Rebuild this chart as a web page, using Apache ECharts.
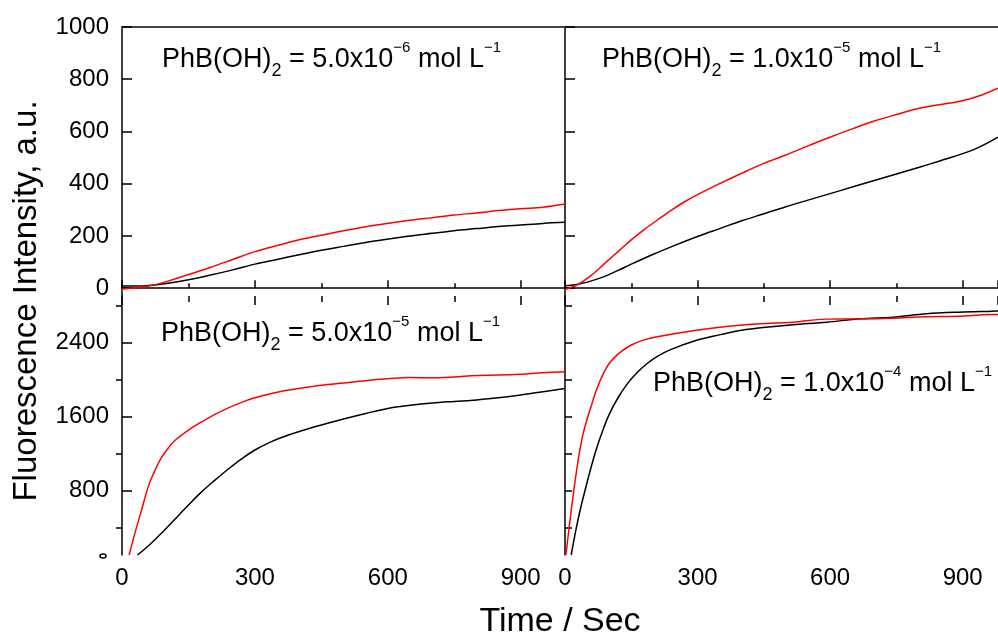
<!DOCTYPE html>
<html>
<head>
<meta charset="utf-8">
<script src="https://cdn.jsdelivr.net/npm/echarts@6/dist/echarts.min.js"></script>
<style>html,body{margin:0;padding:0;background:#fff}#c{width:998px;height:640px}</style>
</head>
<body>
<div id="c"></div>
<script>
// ---------- data ----------
const xTicks = [0, 300, 600, 900];
const yTicksTop = [0, 200, 400, 600, 800, 1000];
const yTicksBottomMajor = [800, 1600, 2400];
const yTicksBottomMinor = [400, 1200, 2000, 2800];

const labelTL = ['PhB(OH)', '2', ' = 5.0x10', '−6', ' mol L', '−1'];
const labelTR = ['PhB(OH)', '2', ' = 1.0x10', '−5', ' mol L', '−1'];
const labelBL = ['PhB(OH)', '2', ' = 5.0x10', '−5', ' mol L', '−1'];
const labelBR = ['PhB(OH)', '2', ' = 1.0x10', '−4', ' mol L', '−1'];

// top-left: 5.0e-6
const tTL = [0,30,60,100,150,200,250,300,350,400,450,500,550,600,650,700,750,800,850,900,950,1000];
const redTL = [-3,2,8,25,52,80,110,140,163,185,203,220,235,248,260,270,280,288,297,304,310,322];
const blackTL = [8,8,10,18,32,50,70,92,110,128,145,160,175,188,200,210,220,228,236,242,248,252];

// top-right: 1.0e-5
const tRedTR = [0,30,60,90,120,150,180,210,240,270,300,350,400,450,500,550,600,650,700,750,800,850,900,940,980];
const redTR = [-5,15,50,95,140,185,225,262,298,330,358,400,440,478,510,545,578,610,640,665,688,703,718,738,766];
const tBlackTR = [0,30,60,90,120,150,200,250,300,350,400,450,500,550,600,650,700,750,800,850,900,940,980];
const blackTR = [9,15,28,45,68,92,130,165,198,228,258,285,312,337,362,387,412,437,462,488,515,542,578];

// bottom-left: 5.0e-5
const tRedBL = [16,30,45,60,75,90,105,120,150,180,210,240,270,300,350,400,450,500,550,600,650,700,750,800,850,900,950,1000];
const redBL = [100,350,600,850,1020,1160,1260,1340,1450,1540,1620,1690,1750,1800,1860,1900,1935,1960,1985,2005,2020,2015,2025,2040,2045,2055,2070,2080];
const tBlackBL = [35,60,90,120,150,180,210,240,270,300,330,360,400,450,500,550,600,650,700,750,800,850,900,950,1000];
const blackBL = [100,200,340,490,640,785,910,1030,1140,1235,1310,1370,1435,1505,1570,1630,1685,1718,1743,1760,1775,1800,1830,1865,1900];

// bottom-right: 1.0e-4
const tRedBR = [2,10,20,30,40,50,60,70,80,90,100,115,130,150,175,215,290,365,440,515,590,665,740,815,890,965,980];
const redBR = [100,420,800,1130,1390,1570,1720,1870,1990,2090,2170,2250,2310,2370,2420,2465,2525,2570,2600,2617,2650,2652,2660,2675,2680,2700,2700];
const tBlackBR = [14,25,35,47,58,70,85,100,120,141,165,186,210,239,291,340,400,460,516,593,667,742,818,892,967,980];
const blackBR = [100,380,600,830,1030,1230,1440,1620,1800,1950,2080,2170,2250,2320,2410,2470,2530,2565,2590,2617,2653,2671,2707,2725,2736,2738];

// ---------- chart ----------
const FONT = '"Liberation Sans", Arial, Helvetica, sans-serif';
const pairs = (t, v) => t.map((x, i) => [x, v[i]]);
const plain = v => String(v);

const grids = [
  {left: 122, top: 27, width: 443, height: 269},
  {left: 565, top: 27, width: 434, height: 269},
  {left: 122, top: 296, width: 443, height: 259},
  {left: 565, top: 296, width: 434, height: 259}
];

const none = {show: false};
const blackLine = {show: true, lineStyle: {color: '#000', width: 1.5}};

function xTop(grid, max) {
  return {type: 'value', gridIndex: grid, position: 'bottom', min: 0, max: max, interval: 300,
    axisLine: blackLine, axisTick: {show: true, inside: true, length: 8, lineStyle: {color: '#000', width: 1.5}},
    minorTick: {show: true, splitNumber: 2, length: 5, lineStyle: {color: '#000', width: 1.5}},
    axisLabel: none, splitLine: none, minorSplitLine: none};
}
function xBottomLabels(grid, max) {
  return {type: 'value', gridIndex: grid, position: 'bottom', min: 0, max: max, interval: 300,
    axisLine: none, axisTick: none, splitLine: none,
    axisLabel: {show: true, customValues: xTicks, formatter: plain, fontSize: 24, fontFamily: FONT, color: '#000', margin: 11}};
}
function xBottomTopTicks(grid, max) {
  return {type: 'value', gridIndex: grid, position: 'top', min: 0, max: max, interval: 300,
    axisLine: none, axisLabel: none, splitLine: none,
    axisTick: {show: true, inside: true, length: 9, lineStyle: {color: '#000', width: 1.5}},
    minorTick: {show: true, splitNumber: 2, length: 6, lineStyle: {color: '#000', width: 1.5}}};
}
function xBorder(grid, max) {
  return {type: 'value', gridIndex: grid, position: 'top', min: 0, max: max,
    axisLine: {show: true, lineStyle: {color: '#444', width: 2}}, axisTick: none, axisLabel: none, splitLine: none};
}

const xAxes = [
  xTop(0, 1000), xTop(1, 980),
  xBottomLabels(2, 1000), xBottomLabels(3, 980),
  xBottomTopTicks(2, 1000), xBottomTopTicks(3, 980),
  xBorder(0, 1000), xBorder(1, 980)
];

const yAxes = [
  {type: 'value', gridIndex: 0, min: -30, max: 1000, axisLine: blackLine, splitLine: none,
    axisTick: {show: true, inside: true, length: 10, customValues: yTicksTop, lineStyle: {color: '#000', width: 1.5}},
    axisLabel: {show: true, customValues: yTicksTop, formatter: plain, fontSize: 24, fontFamily: FONT, color: '#000', margin: 13}},
  {type: 'value', gridIndex: 1, min: -30, max: 1000, axisLine: blackLine, splitLine: none,
    axisTick: {show: true, inside: true, length: 10, customValues: yTicksTop, lineStyle: {color: '#000', width: 1.5}},
    axisLabel: none},
  {type: 'value', gridIndex: 2, min: 100, max: 2900, axisLine: blackLine, splitLine: none,
    axisTick: {show: true, inside: true, length: 10, customValues: yTicksBottomMajor, lineStyle: {color: '#000', width: 1.5}},
    axisLabel: {show: true, customValues: yTicksBottomMajor, formatter: plain, fontSize: 24, fontFamily: FONT, color: '#000', margin: 13}},
  {type: 'value', gridIndex: 2, min: 100, max: 2900, axisLine: none, splitLine: none, axisLabel: none,
    axisTick: {show: true, inside: true, length: 6, customValues: yTicksBottomMinor, lineStyle: {color: '#000', width: 1.5}}},
  {type: 'value', gridIndex: 3, min: 100, max: 2900, axisLine: blackLine, splitLine: none, axisLabel: none,
    axisTick: {show: true, inside: true, length: 7, customValues: yTicksBottomMajor.concat(yTicksBottomMinor), lineStyle: {color: '#000', width: 1.5}}}
];

function line(data, color, xi, yi) {
  return {type: 'line', data: data, xAxisIndex: xi, yAxisIndex: yi, showSymbol: false, symbol: 'none',
    smooth: 0.35, clip: true, lineStyle: {color: color, width: 1.5}, animation: false, z: 3};
}

const series = [
  line(pairs(tTL, blackTL), '#000', 0, 0),
  line(pairs(tTL, redTL), '#ff0000', 0, 0),
  line(pairs(tBlackTR, blackTR), '#000', 1, 1),
  line(pairs(tRedTR, redTR), '#ff0000', 1, 1),
  line(pairs(tBlackBL, blackBL), '#000', 2, 2),
  line(pairs(tRedBL, redBL), '#ff0000', 2, 2),
  line(pairs(tBlackBR, blackBR), '#000', 3, 4),
  line(pairs(tRedBR, redBR), '#ff0000', 3, 4)
];

const rich = {
  n: {fontSize: 27, fontFamily: FONT, color: '#000', lineHeight: 40},
  sub: {fontSize: 18, fontFamily: FONT, color: '#000', lineHeight: 16, verticalAlign: 'bottom'},
  sup: {fontSize: 15, fontFamily: FONT, color: '#000', lineHeight: 20, verticalAlign: 'top'}
};
function richText(parts) {
  const tags = ['n', 'sub', 'n', 'sup', 'n', 'sup'];
  return parts.map((p, i) => '{' + tags[i] + '|' + p + '}').join('');
}
function annot(parts, x, y) {
  return {type: 'text', x: x, y: y, z: 10, style: {text: richText(parts), rich: rich, align: 'left', verticalAlign: 'middle', textAlign: 'left', textVerticalAlign: 'middle'}};
}

const option = {
  animation: false,
  backgroundColor: '#fff',
  grid: grids,
  xAxis: xAxes,
  yAxis: yAxes,
  series: series,
  graphic: [
    annot(labelTL, 162, 60),
    annot(labelTR, 602, 60),
    annot(labelBL, 161, 334),
    annot(labelBR, 653, 384),
    {type: 'text', x: 27, y: 301, rotation: Math.PI / 2, z: 10,
      style: {text: 'Fluorescence Intensity, a.u.', font: '33px ' + FONT, fill: '#000', align: 'center', verticalAlign: 'middle', textAlign: 'center', textVerticalAlign: 'middle'}},
    {type: 'text', x: 560, y: 622, z: 10,
      style: {text: 'Time / Sec', font: '34px ' + FONT, fill: '#000', align: 'center', verticalAlign: 'middle', textAlign: 'center', textVerticalAlign: 'middle'}},
    {type: 'ellipse', shape: {cx: 103, cy: 556, rx: 3, ry: 2}, style: {fill: 'none', stroke: '#000', lineWidth: 1.5}}
  ]
};

const chart = echarts.init(document.getElementById('c'), null, {renderer: 'canvas'});
chart.setOption(option);
</script>
</body>
</html>
